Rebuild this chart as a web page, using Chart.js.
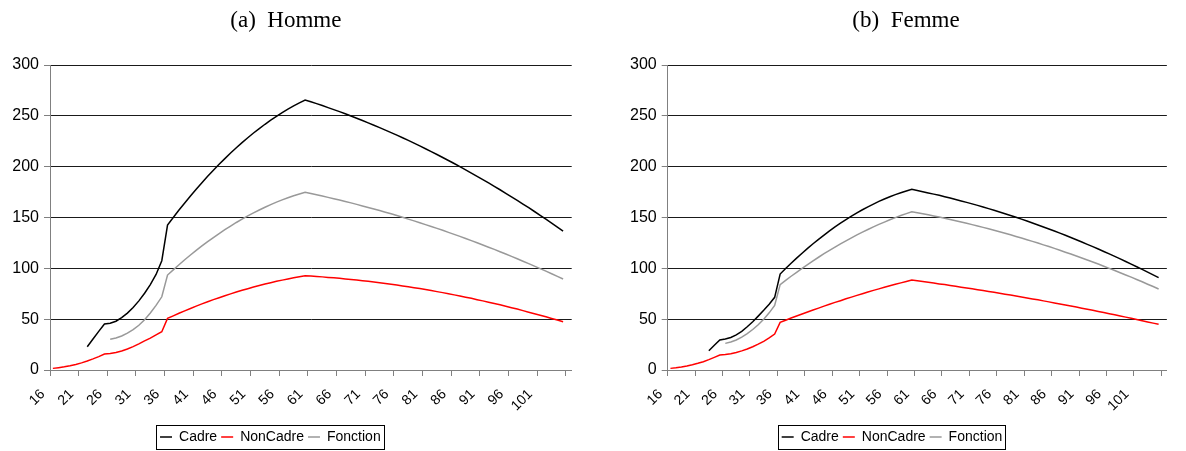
<!DOCTYPE html>
<html>
<head>
<meta charset="utf-8">
<script src="https://cdn.jsdelivr.net/npm/chart.js@4.4.1/dist/chart.umd.min.js"></script>
<style>
  html, body { margin: 0; padding: 0; background: #fff; }
  #wrap { position: relative; width: 1186px; height: 451px; overflow: hidden; background: #fff; }
  canvas { position: absolute; top: 0; }
  #homme { left: 0; }
  #femme { left: 593px; }
</style>
</head>
<body>
<div id="wrap">
  <canvas id="homme" width="593" height="451"></canvas>
  <canvas id="femme" width="593" height="451"></canvas>
</div>
<script>
// Ages on the category axis (one category per year)
const ages = [16,17,18,19,20,21,22,23,24,25,26,27,28,29,30,31,32,33,34,35,36,37,38,39,40,41,42,43,44,45,
  46,47,48,49,50,51,52,53,54,55,56,57,58,59,60,61,62,63,64,65,66,67,68,69,70,71,72,73,74,75,
  76,77,78,79,80,81,82,83,84,85,86,87,88,89,90,91,92,93,94,95,96,97,98,99,100,101,102,103,104,105,106];

// Ages that carry a printed label on the x axis
const tickLabels = [16,21,26,31,36,41,46,51,56,61,66,71,76,81,86,91,96,101];

// Value axis
const yMin = 0, yMax = 300, yStep = 50;

const seriesNames = ['Cadre', 'NonCadre', 'Fonction'];
const seriesColors = ['#000000', '#ff0000', '#999999'];

// (a) Homme
const hommeCadre = [null,null,null,null,null,null,
  22.9,30.5,38.0,45.2,
  46.0,48.0,51.5,56.0,61.5,68.0,75.5,84.0,94.0,107.5,
  142.6,150.0,157.3,164.3,171.2,177.8,184.2,190.5,196.5,202.3,207.9,213.4,218.6,223.6,228.4,233.1,237.5,241.7,245.7,249.5,253.2,256.6,259.8,262.8,265.6,
  263.8,262.0,260.1,258.1,256.1,254.1,252.0,249.8,247.6,245.4,243.1,240.8,238.4,236.0,233.5,231.0,228.4,225.8,223.1,220.4,217.6,214.8,212.0,209.0,206.1,203.1,200.0,196.9,193.7,190.5,187.3,184.0,180.6,177.3,173.8,170.3,166.8,163.2,159.6,155.9,152.1,148.3,144.5,140.6,136.7,
  null];
const hommeNonCadre = [1.6,2.3,3.1,4.2,5.5,7.0,8.8,10.9,13.2,15.7,
  16.3,17.3,18.7,20.6,23.0,25.7,28.6,31.4,34.5,37.7,
  50.8,53.3,55.8,58.2,60.5,62.8,65.0,67.1,69.2,71.1,73.1,74.9,76.7,78.4,80.0,81.6,83.1,84.6,85.9,87.2,88.4,89.6,90.7,91.7,92.7,
  92.4,92.0,91.6,91.1,90.7,90.2,89.6,89.1,88.5,87.9,87.2,86.6,85.9,85.1,84.3,83.6,82.7,81.9,81.0,80.1,79.1,78.1,77.1,76.1,75.0,73.9,72.8,71.6,70.5,69.2,68.0,66.7,65.4,64.1,62.7,61.3,59.9,58.4,56.9,55.4,53.9,52.3,50.7,49.1,47.4,
  null];
const hommeFonction = [null,null,null,null,null,null,null,null,null,null,
  30.2,31.5,33.5,36.3,39.8,44.0,49.5,56.0,63.5,72.0,
  93.4,98.5,103.5,108.4,113.1,117.6,122.0,126.2,130.3,134.2,138.0,141.6,145.1,148.4,151.6,154.6,157.4,160.1,162.7,165.1,167.3,169.4,171.4,173.1,174.8,
  173.6,172.4,171.1,169.8,168.5,167.2,165.8,164.4,162.9,161.4,159.9,158.4,156.8,155.2,153.6,151.9,150.2,148.4,146.7,144.9,143.0,141.2,139.3,137.4,135.4,133.4,131.4,129.3,127.3,125.1,123.0,120.8,118.6,116.3,114.1,111.8,109.4,107.0,104.6,102.2,99.7,97.2,94.7,92.1,89.5,
  null];

// (b) Femme
const femmeCadre = [null,null,null,null,null,null,null,
  19.0,24.3,29.5,
  30.5,32.0,34.5,38.0,42.5,47.5,53.0,58.7,64.7,71.5,
  94.4,99.8,105.0,110.0,114.9,119.6,124.2,128.5,132.7,136.8,140.7,144.4,148.0,151.3,154.6,157.6,160.5,163.2,165.8,168.2,170.4,172.5,174.4,176.1,177.7,
  176.6,175.4,174.2,173.0,171.8,170.5,169.1,167.7,166.3,164.9,163.4,161.9,160.3,158.7,157.1,155.4,153.7,152.0,150.2,148.4,146.5,144.6,142.7,140.7,138.7,136.7,134.6,132.5,130.3,128.1,125.9,123.6,121.3,119.0,116.6,114.2,111.8,109.3,106.7,104.2,101.6,99.0,96.3,93.6,90.8,
  null];
const femmeNonCadre = [1.6,2.2,3.0,4.0,5.2,6.6,8.2,10.2,12.4,14.7,
  15.2,16.0,17.2,18.8,20.7,22.9,25.4,28.2,31.5,35.4,
  46.9,49.0,51.1,53.1,55.1,57.1,59.0,60.9,62.8,64.6,66.5,68.2,70.0,71.7,73.4,75.0,76.7,78.3,79.8,81.3,82.8,84.3,85.7,87.1,88.5,
  87.8,87.0,86.3,85.5,84.7,84.0,83.2,82.4,81.5,80.7,79.9,79.0,78.2,77.3,76.4,75.5,74.6,73.7,72.8,71.8,70.9,69.9,69.0,68.0,67.0,66.0,65.0,64.0,62.9,61.9,60.8,59.8,58.7,57.6,56.5,55.4,54.3,53.1,52.0,50.8,49.7,48.5,47.3,46.1,44.9,
  null];
const femmeFonction = [null,null,null,null,null,null,null,null,null,null,
  26.2,27.5,29.5,32.3,35.8,39.8,44.5,50.0,56.2,63.5,
  84.0,88.1,92.2,96.1,100.0,103.7,107.4,110.9,114.4,117.7,120.9,124.1,127.1,130.0,132.9,135.6,138.2,140.8,143.2,145.5,147.8,149.9,151.9,153.8,155.7,
  154.7,153.7,152.6,151.5,150.4,149.3,148.1,146.9,145.6,144.3,143.0,141.7,140.3,138.9,137.5,136.0,134.5,133.0,131.4,129.8,128.2,126.5,124.9,123.1,121.4,119.6,117.8,115.9,114.1,112.1,110.2,108.2,106.2,104.2,102.1,100.0,97.9,95.7,93.5,91.3,89.0,86.8,84.4,82.1,79.7,
  null];

Chart.defaults.font.family = "'Liberation Sans', Arial, sans-serif";
Chart.defaults.color = '#000';

const AXIS_GRAY = '#808080';
const GRID_DARK = '#1a1a1a';

// Frames the legend and lets each panel nudge its title and legend.
const legendFrame = {
  id: 'legendFrame',
  afterLayout(chart, args, opts) {
    const t = chart.titleBlock;
    if (t && opts.titleX) { t.left += opts.titleX; t.right += opts.titleX; }
    const lg = chart.legend;
    if (lg) {
      lg.left += opts.legendX || 0; lg.right += opts.legendX || 0;
      lg.top += opts.legendY || 0; lg.bottom += opts.legendY || 0;
    }
  },
  afterDraw(chart) {
    const lg = chart.legend;
    if (!lg || !lg.legendHitBoxes || !lg.legendHitBoxes.length) return;
    const hb = lg.legendHitBoxes;
    const first = hb[0], last = hb[hb.length - 1];
    const x1 = Math.round(first.left - 4) + 0.5;
    const x2 = Math.round(last.left + last.width + 3) + 0.5;
    const cy = first.top + first.height / 2;
    const y1 = Math.round(cy - 12) + 0.5;
    const y2 = Math.round(cy + 12) + 0.5;
    const ctx = chart.ctx;
    ctx.save();
    ctx.strokeStyle = '#000';
    ctx.lineWidth = 1;
    ctx.strokeRect(x1, y1, x2 - x1, y2 - y1);
    ctx.restore();
  }
};

function buildPanel(canvasId, titleText, values, layout) {
  const datasets = values.map((vals, k) => ({
    label: seriesNames[k],
    data: vals,
    borderColor: seriesColors[k],
    backgroundColor: seriesColors[k],
    borderWidth: 1.5,
    pointRadius: 0,
    pointHoverRadius: 0,
    tension: 0,
    fill: false,
    spanGaps: false
  }));

  return new Chart(document.getElementById(canvasId), {
    type: 'line',
    data: { labels: ages.map(String), datasets },
    plugins: [legendFrame],
    options: {
      responsive: false,
      maintainAspectRatio: false,
      animation: false,
      devicePixelRatio: 1,
      layout: { padding: { left: 0, right: layout.padRight, top: 0, bottom: 0 } },
      plugins: {
        tooltip: { enabled: false },
        title: {
          display: true,
          text: titleText,
          color: '#000',
          font: { family: "'Liberation Serif', 'Times New Roman', serif", size: 23, weight: 'normal', lineHeight: 1.2 },
          padding: { top: 7, bottom: 30.4 }
        },
        legend: {
          display: true,
          position: 'bottom',
          labels: {
            usePointStyle: true,
            pointStyle: 'line',
            pointStyleWidth: 12,
            padding: 4,
            color: '#000',
            font: { size: 14 }
          }
        },
        legendFrame: { titleX: layout.titleX, legendX: layout.legendX, legendY: layout.legendY }
      },
      scales: {
        x: {
          type: 'category',
          offset: true,
          afterFit(scale) { scale.height = 53; },
          grid: {
            display: true,
            offset: true,
            drawOnChartArea: false,
            drawTicks: true,
            tickLength: 6,
            color: (c) => (c.index !== undefined && c.index % 5 === 0) ? AXIS_GRAY : 'rgba(0,0,0,0)',
            lineWidth: 1
          },
          border: { display: true, color: AXIS_GRAY, width: 1 },
          ticks: {
            autoSkip: false,
            minRotation: 45,
            maxRotation: 45,
            padding: layout.labelPad,
            labelOffset: layout.labelOffset,
            color: '#000',
            font: { size: 14 },
            callback(value, index) {
              const age = ages[index];
              return tickLabels.includes(age) ? String(age) : '';
            }
          }
        },
        y: {
          min: yMin,
          max: yMax,
          afterFit(scale) { scale.width = layout.axisWidth; },
          grid: {
            drawTicks: true,
            tickLength: 6,
            color: (c) => (c.tick && c.tick.value === 0) ? AXIS_GRAY : GRID_DARK,
            tickColor: AXIS_GRAY,
            lineWidth: 1
          },
          border: { display: true, color: AXIS_GRAY, width: 1 },
          ticks: {
            stepSize: yStep,
            padding: 5,
            color: '#000',
            font: { size: 16 }
          }
        }
      }
    }
  });
}

buildPanel('homme', '(a)  Homme', [hommeCadre, hommeNonCadre, hommeFonction],
  { padRight: 21.3, axisWidth: 50, titleX: 0, legendX: -15.5, legendY: 3, labelPad: 10, labelOffset: -10 });
buildPanel('femme', '(b)  Femme', [femmeCadre, femmeNonCadre, femmeFonction],
  { padRight: 3, axisWidth: 74.7, titleX: 18, legendX: 4, legendY: 3, labelPad: 10, labelOffset: -10 });
</script>
</body>
</html>
